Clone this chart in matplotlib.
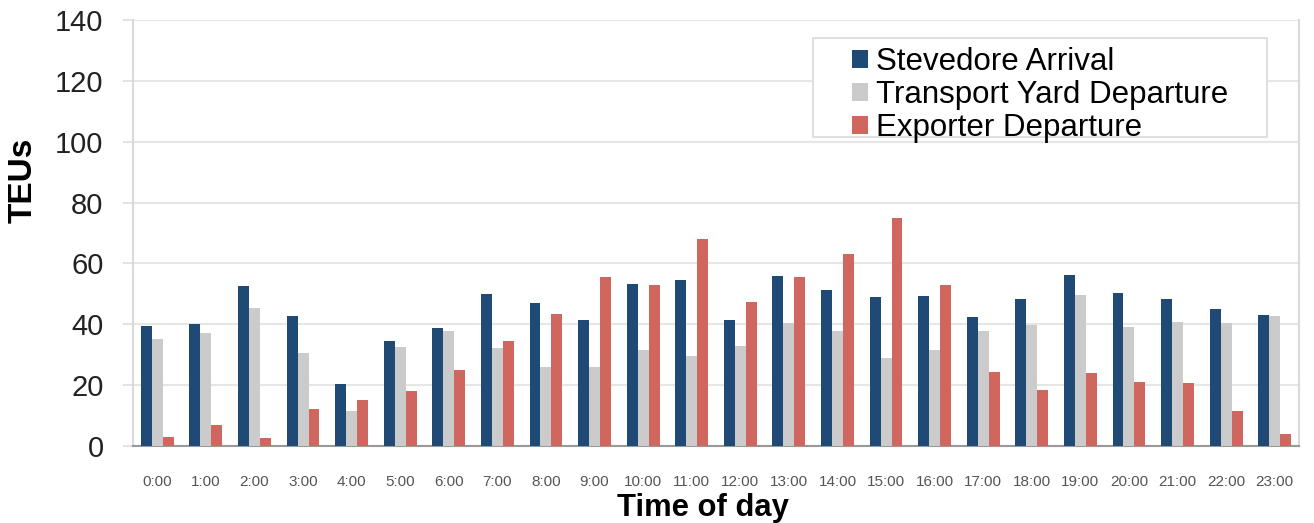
import matplotlib
matplotlib.use("Agg")
import matplotlib.pyplot as plt
from matplotlib.patches import Rectangle
import numpy as np

plt.rcParams['font.family'] = ['Liberation Sans', 'DejaVu Sans']

hours = [f"{h}:00" for h in range(24)]
stevedore_arrival = [39.5, 40, 52.7, 42.8, 20.4, 34.6, 38.9, 50, 47, 41.5, 53.4, 54.7,
                     41.5, 56, 51.4, 49, 49.4, 42.5, 48.4, 56.3, 50.4, 48.4, 45.1, 43.1]
transport_yard_departure = [35.2, 37, 45.5, 30.6, 11.5, 32.6, 37.9, 32.3, 26, 26, 31.6, 29.6,
                            32.9, 40.5, 37.9, 29, 31.6, 37.9, 39.9, 49.7, 39.2, 40.8, 40.5, 42.8]
exporter_departure = [3, 7, 2.6, 12.2, 15, 18, 25, 34.6, 43.5, 55.7, 53, 67.9,
                      47.4, 55.7, 63.2, 75, 53, 24.4, 18.4, 24, 21, 20.8, 11.5, 4]
series_names = ["Stevedore Arrival", "Transport Yard Departure", "Exporter Departure"]
colors = ["#1f4a75", "#cbcbcb", "#d0675f"]
y_ticks = [0, 20, 40, 60, 80, 100, 120, 140]

W, H = 1314, 523
fig = plt.figure(figsize=(W / 100, H / 100), dpi=100)
ax = fig.add_axes([133 / W, 1 - 446 / H, (1299 - 133) / W, (446 - 20) / H])

x = np.arange(len(hours))
w = 0.225
for i, (vals, name, c) in enumerate(zip([stevedore_arrival, transport_yard_departure, exporter_departure],
                                        series_names, colors)):
    ax.bar(x + (i - 1) * w, vals, width=w, color=c, label=name, zorder=3)

ax.set_xlim(-0.5, len(hours) - 0.5)
ax.set_ylim(0, 140)
ax.set_yticks(y_ticks)
ax.set_yticklabels([str(t) for t in y_ticks], fontsize=21, color="#222222")
ax.set_xticks(x)
ax.set_xticklabels(hours, fontsize=11, color="#555555")
ax.tick_params(axis="x", length=0, pad=21)
ax.tick_params(axis="y", length=7.2, color="#dddddd", width=1.2, pad=14)
ax.grid(axis="y", color="#e6e6e6", linewidth=1.5, zorder=0)
ax.set_axisbelow(True)

ax.spines["top"].set_visible(False)
ax.spines["left"].set_color("#d9d9d9")
ax.spines["left"].set_linewidth(1.5)
ax.spines["right"].set_color("#d9d9d9")
ax.spines["right"].set_linewidth(1.5)
ax.spines["bottom"].set_color("#999999")
ax.spines["bottom"].set_linewidth(1.5)

fig.text(23 / W, 1 - 180 / H, "TEUs", rotation=90, fontsize=24, fontweight="bold",
         ha="center", va="center")
fig.text(703 / W, 1 - 516 / H, "Time of day", fontsize=22.3, fontweight="bold",
         ha="center", va="baseline")

# legend frame
x0 = (813 - 133) / 1166
x1 = (1267 - 133) / 1166
y0 = (446 - 137) / 426
y1 = (446 - 38) / 426
ax.add_patch(Rectangle((x0, y0), x1 - x0, y1 - y0, transform=ax.transAxes,
                       facecolor="white", edgecolor="#dcdcdc", linewidth=1.3, zorder=4))
leg = ax.legend(loc="upper left", bbox_to_anchor=((852 - 133) / 1166, (446 - 47) / 426),
                fontsize=22.5, frameon=False, handlelength=0.5, handleheight=0.5,
                handletextpad=0.26, labelspacing=0.1, borderpad=0, borderaxespad=0)
leg.set_zorder(5)

fig.savefig("out.png", dpi=100)
